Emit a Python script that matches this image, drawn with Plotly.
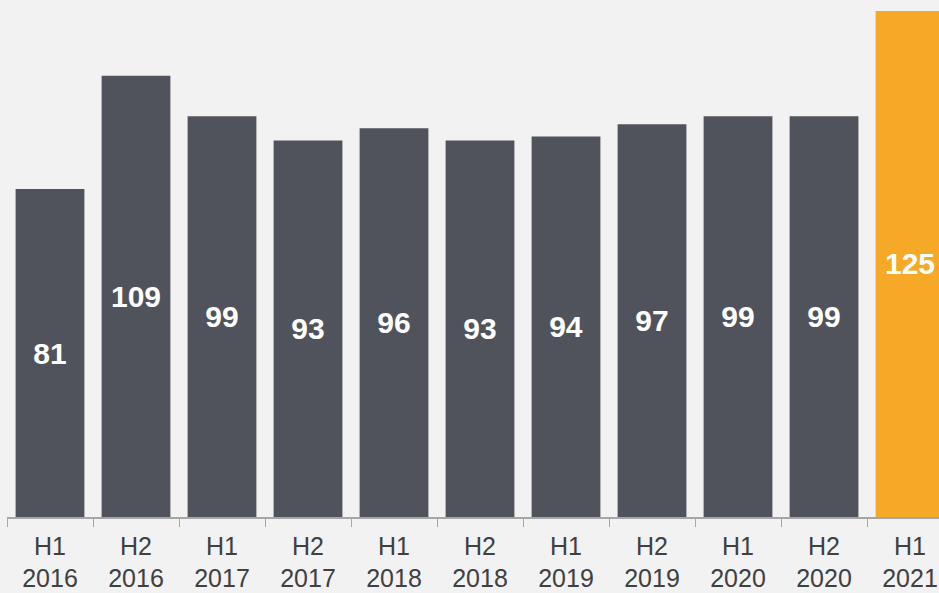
import plotly.graph_objects as go

periods = ["H1<br>2016", "H2<br>2016", "H1<br>2017", "H2<br>2017", "H1<br>2018", "H2<br>2018",
           "H1<br>2019", "H2<br>2019", "H1<br>2020", "H2<br>2020", "H1<br>2021"]
values = [81, 109, 99, 93, 96, 93, 94, 97, 99, 99, 125]
bar_colors = ["#50535B"] * 10 + ["#F6A926"]

fig = go.Figure(go.Bar(
    x=periods, y=values,
    marker=dict(color=bar_colors, line=dict(width=0)),
    width=0.8,
    text=[str(v) for v in values],
    textposition="inside",
    insidetextanchor="middle",
    textangle=0,
    textfont=dict(family="Liberation Sans, Arial, sans-serif", size=30, color="white", weight="bold"),
    cliponaxis=True,
))

fig.update_layout(
    width=939, height=593,
    margin=dict(l=7, r=0, t=0, b=76),
    paper_bgcolor="#F2F2F2", plot_bgcolor="#F2F2F2",
    showlegend=False,
)
fig.update_xaxes(
    range=[-0.5, 10.337],
    showline=True, linecolor="#A6A6A6", linewidth=1.5,
    ticks="outside", tickson="boundaries", ticklen=8, tickcolor="#A6A6A6", tickwidth=1,
    ticklabelstandoff=6,
    tickfont=dict(family="Liberation Sans, Arial, sans-serif", size=25, color="#404040"),
    showgrid=False, zeroline=False,
)
fig.update_yaxes(range=[0, 127.7], visible=False, showgrid=False, zeroline=False)

fig.write_html("out.html", config={"displayModeBar": False},
               post_script="document.body.style.margin='0';document.body.style.background='#F2F2F2';")
